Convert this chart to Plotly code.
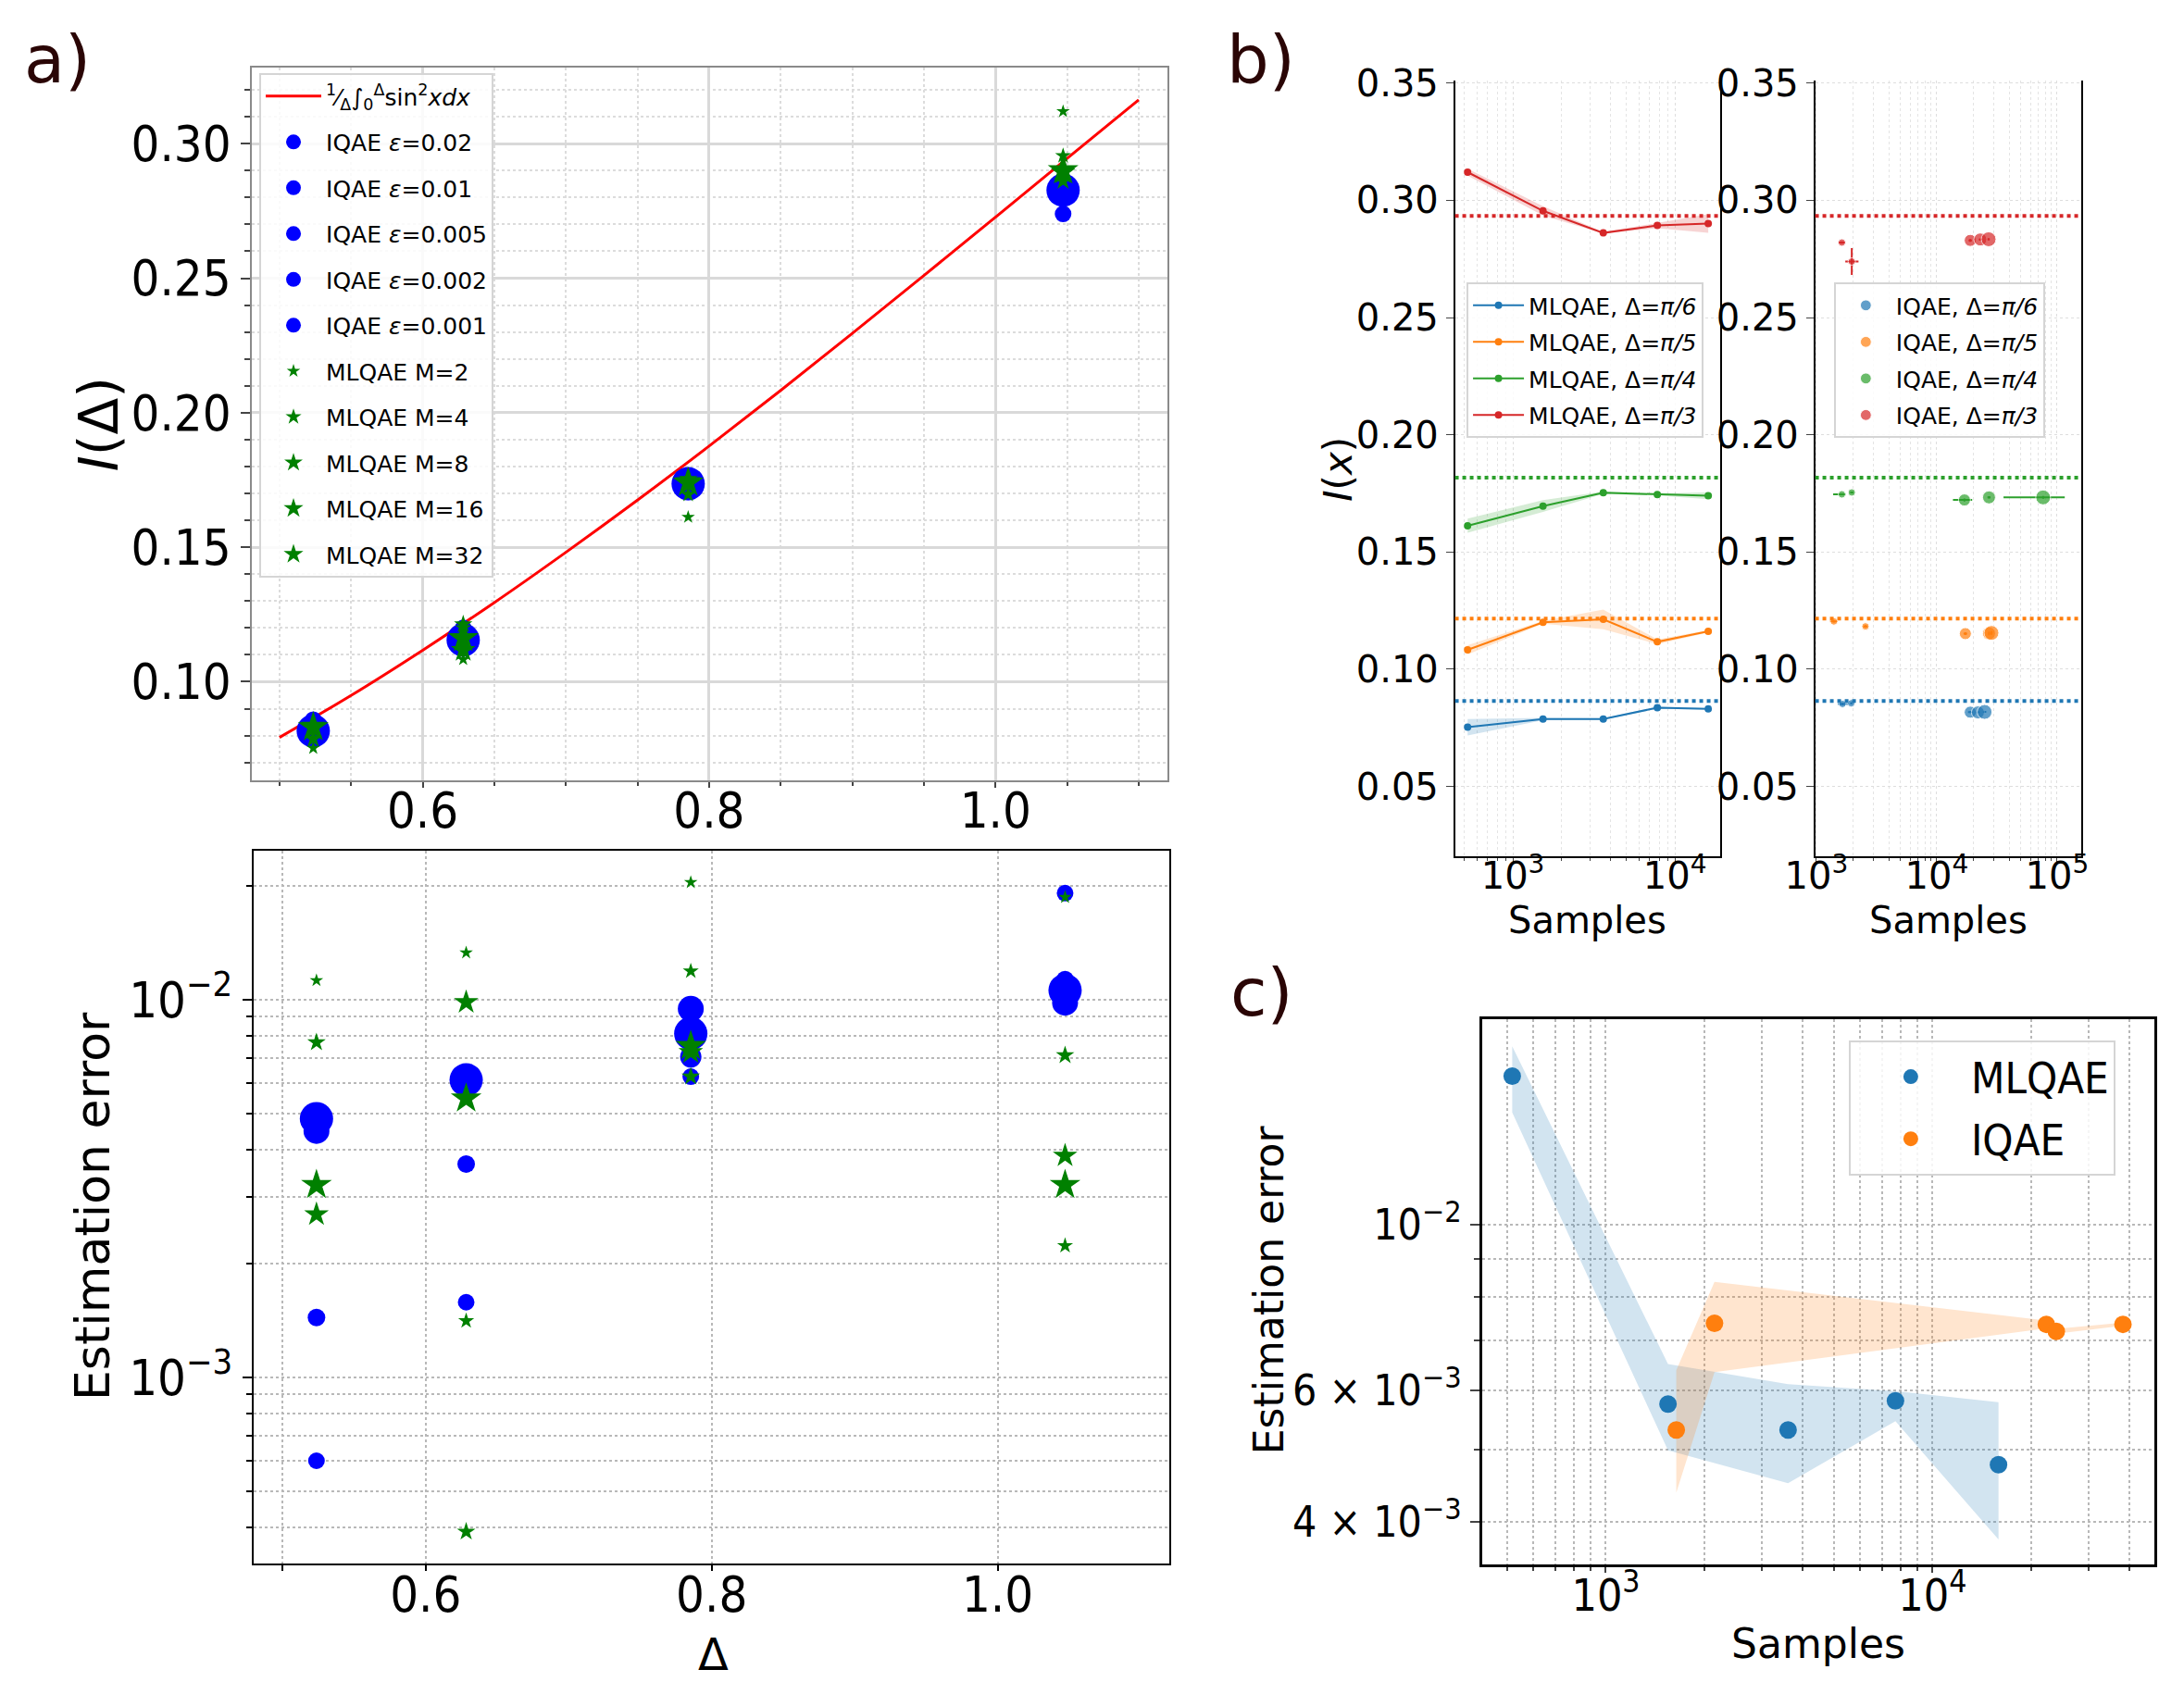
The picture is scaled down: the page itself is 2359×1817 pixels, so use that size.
import plotly.graph_objects as go

# ---------------- panel a : estimates and errors vs Delta ----------------
DELTA = [0.5236, 0.6283, 0.7854, 1.0472]

CURVE_X = [0.50, 0.55, 0.60, 0.65, 0.70, 0.75, 0.80, 0.85, 0.90, 0.95, 1.00, 1.05, 1.10]
CURVE_Y = [0.0793, 0.0949, 0.1117, 0.1294, 0.1481, 0.1675, 0.1876, 0.2083, 0.2295, 0.2510, 0.2727, 0.2945, 0.3163]

EPSILONS = ["0.02", "0.01", "0.005", "0.002", "0.001"]
IQAE_EST = [
    [0.0859, 0.1200, 0.1755, 0.2739],
    [0.0851, 0.1179, 0.1747, 0.2820],
    [0.0819, 0.1156, 0.1747, 0.2829],
    [0.0820, 0.1155, 0.1723, 0.2835],
    [0.0817, 0.1155, 0.1736, 0.2827],
]
IQAE_ERR = [
    [0.000601, 0.00158, 0.00625, 0.01914],
    [0.00144, 0.00367, 0.00699, 0.0113],
    [0.00460, 0.00600, 0.00705, 0.0104],
    [0.00449, 0.00610, 0.00945, 0.00981],
    [0.00484, 0.00613, 0.00813, 0.01058],
]

M_VALUES = ["2", "4", "8", "16", "32"]
MLQAE_EST = [
    [0.0753, 0.1083, 0.1612, 0.3120],
    [0.0788, 0.1200, 0.1696, 0.2955],
    [0.0788, 0.1213, 0.1753, 0.2861],
    [0.0836, 0.1117, 0.1745, 0.2893],
    [0.0831, 0.1162, 0.1740, 0.2901],
]
MLQAE_ERR = [
    [0.01124, 0.01331, 0.02044, 0.01867],
    [0.00771, 0.00141, 0.01189, 0.00223],
    [0.00771, 0.00039, 0.00625, 0.00712],
    [0.00270, 0.00984, 0.00726, 0.00386],
    [0.00323, 0.00547, 0.00754, 0.00323],
]

# ---------------- panel b : estimates vs samples ----------------
DELTA_NAMES = ["π/6", "π/5", "π/4", "π/3"]
TRUE_VALUES = [0.0865, 0.1216, 0.1817, 0.2933]
MLQAE_SAMPLES = [526, 1535, 3614, 7790, 16060]
# half width of the shaded band, per Delta then per M
MLQAE_BAND = [
    [0.0035, 0.0005, 0.0003, 0.0005, 0.0003],
    [0.0020, 0.0006, 0.0042, 0.0010, 0.0005],
    [0.0030, 0.0025, 0.0005, 0.0004, 0.0015],
    [0.0015, 0.0020, 0.0003, 0.0012, 0.0040],
]

IQAE_SAMPLES = [
    [1650, 1950, 19000, 22000, 25000],
    [1400, 2560, 17300, 27200, 28500],
    [1630, 1970, 17000, 27200, 76600],
    [1630, 1970, 19000, 23000, 27000],
]
IQAE_B = [
    [0.0852, 0.0855, 0.0817, 0.0816, 0.0818],
    [0.1204, 0.1183, 0.1152, 0.1153, 0.1155],
    [0.1746, 0.1754, 0.1722, 0.1733, 0.1733],
    [0.2820, 0.2739, 0.2829, 0.2833, 0.2834],
]
IQAE_XERR_LO = [
    [140, 30, 800, 800, 800],
    [100, 100, 600, 600, 600],
    [250, 60, 3350, 800, 40700],
    [100, 230, 600, 600, 600],
]
IQAE_XERR_HI = [
    [200, 30, 800, 800, 800],
    [100, 100, 600, 600, 600],
    [120, 60, 2700, 800, 39200],
    [100, 270, 600, 600, 600],
]
IQAE_YERR = [
    [0.0005, 0.0004, 0.0004, 0.0003, 0.0003],
    [0.0005, 0.0005, 0.0006, 0.0008, 0.0008],
    [0.0004, 0.0004, 0.0006, 0.0005, 0.0006],
    [0.0005, 0.0057, 0.0006, 0.0004, 0.0004],
]

# ---------------- panel c : mean estimation error vs samples ----------------
C_MLQAE_SAMPLES = [517, 1550, 3613, 7701, 15920]
C_MLQAE_ERR = [0.01583, 0.005756, 0.005313, 0.005815, 0.004775]
C_MLQAE_LO = [0.01415, 0.00499, 0.00451, 0.00546, 0.00379]
C_MLQAE_HI = [0.01735, 0.00651, 0.00612, 0.00599, 0.00579]
C_IQAE_SAMPLES = [1643, 2151, 22300, 23920, 38270]
C_IQAE_ERR = [0.005313, 0.007385, 0.00736, 0.00720, 0.00736]
C_IQAE_LO = [0.00438, 0.00635, 0.00727, 0.00715, 0.00733]
C_IQAE_HI = [0.00639, 0.00839, 0.00745, 0.00726, 0.00740]

# tick labels
A_LOG_TICKS = [0.001, 0.01]
A_LOG_LABELS = ["10<sup>−3</sup>", "10<sup>−2</sup>"]
B_LEFT_TICKS = [1000, 10000]
B_LEFT_LABELS = ["10<sup>3</sup>", "10<sup>4</sup>"]
B_RIGHT_TICKS = [1000, 10000, 100000]
B_RIGHT_LABELS = ["10<sup>3</sup>", "10<sup>4</sup>", "10<sup>5</sup>"]
C_X_TICKS = [1000, 10000]
C_X_LABELS = ["10<sup>3</sup>", "10<sup>4</sup>"]
C_Y_TICKS = [0.004, 0.006, 0.01]
C_Y_LABELS = ["4 × 10<sup>−3</sup>", "6 × 10<sup>−3</sup>", "10<sup>−2</sup>"]

TAB = ["#1f77b4", "#ff7f0e", "#2ca02c", "#d62728"]
TAB_FILL = ["rgba(31,119,180,0.2)", "rgba(255,127,14,0.2)",
            "rgba(44,160,44,0.2)", "rgba(214,39,40,0.2)"]
CIRCLE_SIZES = [18, 19, 23, 28, 36]
STAR_SIZES = [11, 13, 15, 20, 25]
IQAE_B_SIZES = [8, 8, 13, 14, 16]
COND = "DejaVu Sans Condensed, DejaVu Sans"


def minor_log(lo, hi):
    # 2..9 x 10^k between two decades, for the minor grid
    vals = []
    for k in range(lo, hi):
        for m in range(2, 10):
            vals.append(m * 10 ** k)
    return vals


fig = go.Figure()

# ---- panel a, top
fig.add_trace(go.Scatter(
    x=CURVE_X, y=CURVE_Y, mode="lines", line=dict(color="red", width=3, shape="spline"),
    name="<sup>1</sup>⁄<sub>Δ</sub>∫<sub>0</sub><sup>Δ</sup>sin<sup>2</sup><i>xdx</i>",
    legend="legend", legendgroup="curve", xaxis="x", yaxis="y"))
for i, eps in enumerate(EPSILONS):
    fig.add_trace(go.Scatter(
        x=DELTA, y=IQAE_EST[i], mode="markers",
        marker=dict(color="blue", size=CIRCLE_SIZES[i], symbol="circle"),
        name=f"IQAE <i>ε</i>={eps}", legend="legend", legendgroup=f"iq{i}",
        xaxis="x", yaxis="y"))
for i, m in enumerate(M_VALUES):
    fig.add_trace(go.Scatter(
        x=DELTA, y=MLQAE_EST[i], mode="markers",
        marker=dict(color="green", size=STAR_SIZES[i], symbol="star"),
        name=f"MLQAE M={m}", legend="legend", legendgroup=f"ml{i}",
        xaxis="x", yaxis="y"))

# ---- panel a, bottom
for i in range(len(EPSILONS)):
    fig.add_trace(go.Scatter(
        x=DELTA, y=IQAE_ERR[i], mode="markers", showlegend=False,
        marker=dict(color="blue", size=CIRCLE_SIZES[i], symbol="circle"),
        xaxis="x2", yaxis="y2"))
for i in range(len(M_VALUES)):
    fig.add_trace(go.Scatter(
        x=DELTA, y=MLQAE_ERR[i], mode="markers", showlegend=False,
        marker=dict(color="green", size=STAR_SIZES[i], symbol="star"),
        xaxis="x2", yaxis="y2"))

# ---- panel b, left (MLQAE)
shapes = []
for d, name in enumerate(DELTA_NAMES):
    vals = [MLQAE_EST[m][d] for m in range(len(M_VALUES))]
    upper = [v + w for v, w in zip(vals, MLQAE_BAND[d])]
    lower = [v - w for v, w in zip(vals, MLQAE_BAND[d])]
    fig.add_trace(go.Scatter(x=MLQAE_SAMPLES, y=upper, mode="lines", line=dict(width=0),
                             showlegend=False, hoverinfo="skip", xaxis="x3", yaxis="y3"))
    fig.add_trace(go.Scatter(x=MLQAE_SAMPLES, y=lower, mode="lines", line=dict(width=0),
                             fill="tonexty", fillcolor=TAB_FILL[d], showlegend=False,
                             hoverinfo="skip", xaxis="x3", yaxis="y3"))
    fig.add_trace(go.Scatter(
        x=MLQAE_SAMPLES, y=vals, mode="lines+markers",
        line=dict(color=TAB[d], width=2), marker=dict(color=TAB[d], size=8),
        name=f"MLQAE, Δ=<i>{name}</i>", legend="legend2", legendgroup=f"b{d}",
        xaxis="x3", yaxis="y3"))
    for xr, yr in (("x3", "y3"), ("x4", "y4")):
        shapes.append(dict(type="line", xref=f"{xr} domain", x0=0, x1=1, yref=yr,
                           y0=TRUE_VALUES[d], y1=TRUE_VALUES[d],
                           line=dict(color=TAB[d], width=4, dash="dot")))

# ---- panel b, right (IQAE)
for d, name in enumerate(DELTA_NAMES):
    fig.add_trace(go.Scatter(
        x=IQAE_SAMPLES[d], y=IQAE_B[d], mode="markers",
        marker=dict(color=TAB[d], size=IQAE_B_SIZES),
        error_x=dict(type="data", array=IQAE_XERR_HI[d], arrayminus=IQAE_XERR_LO[d],
                     color=TAB[d], thickness=2, width=0),
        error_y=dict(type="data", array=IQAE_YERR[d], color=TAB[d], thickness=2, width=0),
        name=f"IQAE, Δ=<i>{name}</i>", legend="legend3", legendgroup=f"r{d}",
        xaxis="x4", yaxis="y4"))

# ---- panel c
fig.add_trace(go.Scatter(x=C_MLQAE_SAMPLES, y=C_MLQAE_HI, mode="lines", line=dict(width=0),
                         showlegend=False, hoverinfo="skip", xaxis="x5", yaxis="y5"))
fig.add_trace(go.Scatter(x=C_MLQAE_SAMPLES, y=C_MLQAE_LO, mode="lines", line=dict(width=0),
                         fill="tonexty", fillcolor=TAB_FILL[0], showlegend=False,
                         hoverinfo="skip", xaxis="x5", yaxis="y5"))
fig.add_trace(go.Scatter(x=C_IQAE_SAMPLES, y=C_IQAE_HI, mode="lines", line=dict(width=0),
                         showlegend=False, hoverinfo="skip", xaxis="x5", yaxis="y5"))
fig.add_trace(go.Scatter(x=C_IQAE_SAMPLES, y=C_IQAE_LO, mode="lines", line=dict(width=0),
                         fill="tonexty", fillcolor=TAB_FILL[1], showlegend=False,
                         hoverinfo="skip", xaxis="x5", yaxis="y5"))
fig.add_trace(go.Scatter(x=C_MLQAE_SAMPLES, y=C_MLQAE_ERR, mode="markers",
                         marker=dict(color=TAB[0], size=19), name="MLQAE",
                         legend="legend4", legendgroup="c0", xaxis="x5", yaxis="y5"))
fig.add_trace(go.Scatter(x=C_IQAE_SAMPLES, y=C_IQAE_ERR, mode="markers",
                         marker=dict(color=TAB[1], size=19), name="IQAE",
                         legend="legend4", legendgroup="c1", xaxis="x5", yaxis="y5"))

# ---------------- axes ----------------
dot_grid = dict(gridcolor="#b8b8b8", gridwidth=1.5, griddash="dot")
faint_grid = dict(gridcolor="#dedede", gridwidth=1, griddash="dot")
box = dict(showline=True, linecolor="black", linewidth=2, mirror=True,
           ticks="outside", tickwidth=2, tickcolor="black", zeroline=False)

fig.update_layout(
    xaxis=dict(domain=[0.1155, 0.5345], anchor="y", range=[0.481, 1.120],
               tick0=0.2, dtick=0.2, tickformat=".1f", showgrid=True,
               gridcolor="#d9d9d9", gridwidth=3, showline=True, linecolor="#8a8a8a",
               linewidth=2, mirror=True, ticks="outside", ticklen=6, tickwidth=2,
               ticklabelstandoff=-22,
               zeroline=False, tickfont=dict(family=COND, size=54),
               minor=dict(dtick=0.05, tick0=0, showgrid=True, gridcolor="#dcdcdc",
                          gridwidth=2, griddash="dot", ticks="outside", ticklen=4)),
    yaxis=dict(domain=[0.536, 0.960], anchor="x", range=[0.0633, 0.3284],
               tick0=0, dtick=0.05, tickformat=".2f", showgrid=True,
               gridcolor="#d9d9d9", gridwidth=3, showline=True, linecolor="#8a8a8a",
               linewidth=2, mirror=True, ticks="outside", ticklen=10, tickwidth=2,
               zeroline=False, tickfont=dict(family=COND, size=54),
               minor=dict(dtick=0.01, tick0=0, showgrid=True, gridcolor="#dcdcdc",
                          gridwidth=2, griddash="dot", ticks="outside", ticklen=6)),
    xaxis2=dict(domain=[0.1161, 0.5352], anchor="y2", range=[0.4796, 1.1198],
                tickvals=[0.5, 0.6, 0.8, 1.0], ticktext=["", "0.6", "0.8", "1.0"],
                ticklen=6, ticklabelstandoff=-21,
                showgrid=True, **dot_grid, **box, tickfont=dict(family=COND, size=54)),
    yaxis2=dict(domain=[0.0704, 0.494], anchor="x2", type="log", range=[-3.4934, -1.6068],
                tickvals=A_LOG_TICKS, ticktext=A_LOG_LABELS, ticklen=10,
                showgrid=True, **dot_grid, **box,
                tickfont=dict(family=COND, size=54),
                minor=dict(tickvals=minor_log(-4, -1), showgrid=True, gridcolor="#b8b8b8",
                           gridwidth=1.5, griddash="dot", ticks="outside", ticklen=6)),
    xaxis3=dict(domain=[0.6662, 0.7876], anchor="y3", type="log", range=[2.643, 4.279],
                tickvals=B_LEFT_TICKS, ticktext=B_LEFT_LABELS, showgrid=True, **faint_grid,
                showline=True, linecolor="black", linewidth=1.5, mirror=False,
                ticks="outside", ticklen=5, ticklabelstandoff=-20, tickfont=dict(size=40),
                minor=dict(tickvals=minor_log(2, 5), showgrid=True, gridcolor="#e4e4e4",
                           gridwidth=1, griddash="dot", ticks="outside", ticklen=3)),
    yaxis3=dict(domain=[0.491, 0.952], anchor="x3", range=[0.0203, 0.351],
                tick0=0, dtick=0.05, tickformat=".2f", showgrid=True, **faint_grid,
                showline=True, linecolor="black", linewidth=1.5, mirror=True,
                ticks="outside", ticklen=8, zeroline=False, tickfont=dict(size=40)),
    xaxis4=dict(domain=[0.8311, 0.9528], anchor="y4", type="log", range=[2.99, 5.198],
                tickvals=B_RIGHT_TICKS, ticktext=B_RIGHT_LABELS, showgrid=True, **faint_grid,
                showline=True, linecolor="black", linewidth=1.5, mirror=False,
                ticks="outside", ticklen=5, ticklabelstandoff=-20, tickfont=dict(size=40),
                minor=dict(tickvals=minor_log(3, 6), showgrid=True, gridcolor="#e4e4e4",
                           gridwidth=1, griddash="dot", ticks="outside", ticklen=3)),
    yaxis4=dict(domain=[0.491, 0.952], anchor="x4", range=[0.0203, 0.351],
                tick0=0, dtick=0.05, tickformat=".2f", showgrid=True, **faint_grid,
                showline=True, linecolor="black", linewidth=1.5, mirror=True,
                ticks="outside", ticklen=8, zeroline=False, tickfont=dict(size=40)),
    xaxis5=dict(domain=[0.6786, 0.9864], anchor="y5", type="log", range=[2.6212, 4.6788],
                tickvals=C_X_TICKS, ticktext=C_X_LABELS, showgrid=True, **dot_grid,
                showline=True, linecolor="black", linewidth=3, mirror=True,
                ticks="outside", ticklen=6, tickwidth=2, ticklabelstandoff=-16,
                tickfont=dict(family=COND, size=48),
                minor=dict(tickvals=minor_log(2, 5), showgrid=True, gridcolor="#b8b8b8",
                           gridwidth=1.5, griddash="dot", ticks="outside", ticklen=4)),
    yaxis5=dict(domain=[0.070, 0.394], anchor="x5", type="log", range=[-2.4545, -1.7245],
                tickvals=C_Y_TICKS, ticktext=C_Y_LABELS, showgrid=True, **dot_grid,
                showline=True, linecolor="black", linewidth=3, mirror=True,
                ticks="outside", ticklen=10, tickwidth=2, tickfont=dict(family=COND, size=46),
                minor=dict(tickvals=[0.005, 0.007, 0.008, 0.009], showgrid=True,
                           gridcolor="#b8b8b8", gridwidth=1.5, griddash="dot",
                           ticks="outside", ticklen=6)),
)
for ax in ("xaxis", "yaxis", "xaxis2", "yaxis2", "xaxis3", "yaxis3",
           "xaxis4", "yaxis4", "xaxis5", "yaxis5"):
    fig.layout[ax].automargin = False

leg = dict(xanchor="left", yanchor="top", bgcolor="rgba(255,255,255,0.85)",
           bordercolor="#d5d5d5", borderwidth=2)
fig.update_layout(
    legend=dict(x=0.1187, y=0.9565, font=dict(size=25), tracegroupgap=14, itemwidth=60, **leg),
    legend2=dict(x=0.6715, y=0.8321, font=dict(size=25), tracegroupgap=4, itemwidth=55, **leg),
    legend3=dict(x=0.8397, y=0.8321, font=dict(size=25), tracegroupgap=4, itemwidth=55, **leg),
    legend4=dict(x=0.8465, y=0.3814, font=dict(family=COND, size=47), tracegroupgap=3,
                 itemwidth=120, **leg),
)


def label(text, x, y, size, angle=0, color="black", xanchor="center"):
    fig.add_annotation(text=text, x=x, y=y, xref="paper", yref="paper", showarrow=False,
                       textangle=angle, font=dict(size=size, color=color),
                       xanchor=xanchor, yanchor="middle")


label("a)", 0.0100, 0.9648, 72, color="#2a0505", xanchor="left")
label("b)", 0.5610, 0.9648, 72, color="#2a0505", xanchor="left")
label("c)", 0.5625, 0.4100, 72, color="#2a0505", xanchor="left")
label("<i>I</i>(Δ)", 0.0452, 0.7476, 58, angle=-90)
label("Estimation error", 0.0424, 0.2829, 52, angle=-90)
label("Δ", 0.3268, 0.0165, 48)
label("<i>I</i>(<i>x</i>)", 0.6130, 0.7211, 42, angle=-90)
label("Samples", 0.7266, 0.4530, 40)
label("Samples", 0.8921, 0.4530, 40)
label("Estimation error", 0.5813, 0.2334, 44, angle=-90)
label("Samples", 0.8325, 0.0226, 44)

fig.update_layout(
    shapes=shapes,
    width=2359, height=1817,
    margin=dict(l=0, r=0, t=0, b=0),
    font=dict(family="DejaVu Sans", color="black"),
    plot_bgcolor="white", paper_bgcolor="white",
)

fig.write_html("out.html", config={"displayModeBar": False},
               post_script="document.body.style.margin='0';")
